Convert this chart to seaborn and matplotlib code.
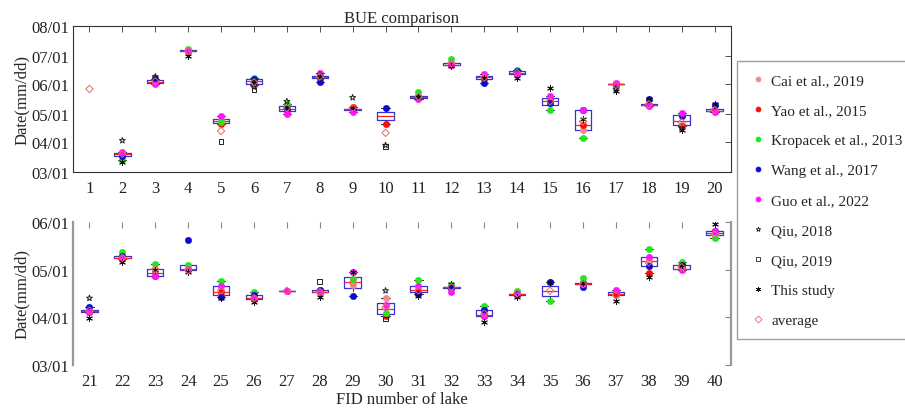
import numpy as np
import pandas as pd
import matplotlib
matplotlib.use('Agg')
import matplotlib.pyplot as plt
import seaborn as sns
from matplotlib.lines import Line2D

nan = np.nan
lakes = list(range(1, 41))
lake_labels = [str(i) for i in lakes]
top_ylabels = ['03/01', '04/01', '05/01', '06/01', '07/01', '08/01']
bot_ylabels = ['03/01', '04/01', '05/01', '06/01']

# day-of-year values
cai = [nan, 80, 154, 187, 114, 155, 129, 160, 126, nan, 140, 173, 160, 164, nan, 104, 152, 130, 109, 124,
       95, 129, 121, 121, 105, 102.4, nan, 107, 111.4, 103, 108, 110, 92, 106, nan, 113, 105, 127, 122, 144]
yao = [nan, 79, 153, 187, 110, 152, 124, 158, 128, 110, 139, 172, 159, 163, 137, 109, 152, 130, 108.6, 124,
       94, 128, 117, 121, 107, 102.4, 107.8, 107, nan, 91.5, 107, 110, 91.7, 105, nan, 112, 105.4, 119, 122, nan]
kropacek = [nan, 73, 156, 189, 112, 158, 131, 161, nan, nan, 143.5, 178, nan, 167, 125, 96, 150, nan, nan, nan,
            nan, 133, 125, 124.3, 114.2, 107.1, nan, 108, 115.3, 93.4, 114.9, 111.6, 97.7, 107.8, 101.4, 115.7, nan, 134.6, 126, 141.4]
wang = [nan, 77, 157, nan, nan, 157, 126, 154, 125, 127, 138, nan, 153, 166, 132, 125, 152, 136, 118.7, 130,
        97, 130, nan, 140.6, 104, 105, nan, 108, 104.6, nan, 105.8, 109.5, 95.6, 106, 113.6, 110.4, nan, 123.4, 124.3, 146]
guo = [nan, 81, 152, 187, 119, 151, 121, 164, 123, nan, 136, 172, 163, 162.6, 140, 125, 153, 129.6, 121.5, 122.7,
       94, 128.8, 117, 121.7, 110.6, 103, 107.8, 107, 120, 98.6, 110.6, 106.7, 91.7, 105, nan, 112, 108.2, 129.2, 121.1, 146.4]
qiu2018 = [nan, 93, 160, nan, nan, 149, 134, 162, 138, 88, nan, nan, nan, nan, nan, nan, 147, nan, 106, nan,
           103, nan, nan, nan, nan, nan, nan, nan, nan, 107.8, nan, nan, nan, nan, nan, nan, nan, nan, nan, nan]
qiu2019 = [nan, nan, nan, nan, 92, 146, nan, nan, nan, 87, nan, nan, nan, nan, nan, nan, nan, nan, nan, nan,
           nan, nan, nan, nan, nan, nan, nan, 113.6, nan, 89.6, nan, nan, nan, nan, nan, nan, nan, nan, nan, nan]
this_study = [nan, 71, 158, 182, nan, 153, 128, 160, 127, nan, 139, 171, 158, 158, 148, 116, 145, 137, 104, 131,
              90, 126.4, 121, 119.6, 103, 100.7, nan, 103.5, 120, nan, 104.2, 112, 87.4, 104, 113.6, 112.5, 101.3, 116.4, 124.3, 150.7]
average = [147, 79, 155, 187, 103, 154, 127, 160, 127, 101, 139, 174, 159, 164, 134, 113, 151, 131, 112, 125,
           95, 129, 121.7, 121, 108, 103, 107.8, 107, 113, 97, 108, 110, 93, 106, 107.8, 112, 105, 126, 123, 144]

sources = ['Cai et al., 2019', 'Yao et al., 2015', 'Kropacek et al., 2013', 'Wang et al., 2017',
           'Guo et al., 2022', 'Qiu, 2018', 'Qiu, 2019', 'This study', 'average']
series = [cai, yao, kropacek, wang, guo, qiu2018, qiu2019, this_study, average]
box_sources = sources[:5]

rows = []
for name, vals in zip(sources, series):
    for lk, v in zip(lakes, vals):
        if not np.isnan(v):
            rows.append((lk, name, v))
df = pd.DataFrame(rows, columns=['lake', 'source', 'doy'])

styles = {
    'Cai et al., 2019': dict(marker='o', fc='#f28a8a', ec='#f28a8a', s=22),
    'Yao et al., 2015': dict(marker='o', fc='#ff0a0a', ec='#ff0a0a', s=22),
    'Kropacek et al., 2013': dict(marker='o', fc='#1ee81e', ec='#1ee81e', s=22),
    'Wang et al., 2017': dict(marker='o', fc='#0a0ad2', ec='#0a0ad2', s=22),
    'Guo et al., 2022': dict(marker='o', fc='#ff14ff', ec='#ff14ff', s=22),
    'Qiu, 2018': dict(marker='*', fc='none', ec='#222222', s=20),
    'Qiu, 2019': dict(marker='s', fc='none', ec='#222222', s=11),
    'This study': dict(marker=(6, 2, 0), fc='#111111', ec='#111111', s=18),
    'average': dict(marker='D', fc='none', ec='#e66a6a', s=14),
}

def to_doy(lbls):
    return [pd.to_datetime('2019/' + s).dayofyear for s in lbls]

sns.set_style('white')
plt.rcParams['font.family'] = ['Liberation Serif', 'DejaVu Serif']

fig = plt.figure(figsize=(9.05, 4.10), dpi=100)
W, H = 905, 410
ax1 = fig.add_axes([73 / W, 1 - 173 / H, 658 / W, 146 / H])
ax2 = fig.add_axes([73 / W, 1 - 366 / H, 658 / W, 143 / H])

panels = [(ax1, 1, 20, top_ylabels), (ax2, 21, 40, bot_ylabels)]
for ax, lo, hi, ylbls in panels:
    sub = df[(df.lake >= lo) & (df.lake <= hi)]
    bsub = sub[sub.source.isin(box_sources)]
    sns.boxplot(data=bsub, x='lake', y='doy', native_scale=True, width=0.5, fill=False,
                color='#3434d4', linewidth=0.9, showfliers=False,
                medianprops=dict(color='#ff2020', linewidth=0.9),
                whiskerprops=dict(color='#333333', linestyle='--', linewidth=0.7),
                capprops=dict(color='#333333', linewidth=0.8), ax=ax)
    for name in sources:
        st = styles[name]
        d = sub[sub.source == name]
        if d.empty:
            continue
        if st['fc'] == 'none':
            sns.scatterplot(x=d['lake'], y=d['doy'], marker=st['marker'], s=st['s'],
                            facecolor='none', edgecolor=st['ec'], linewidth=0.7, ax=ax, zorder=3)
        elif isinstance(st['marker'], tuple):
            sns.scatterplot(x=d['lake'], y=d['doy'], marker=st['marker'], s=st['s'],
                            color=st['ec'], linewidth=0.7, ax=ax, zorder=3)
        else:
            sns.scatterplot(x=d['lake'], y=d['doy'], marker=st['marker'], s=st['s'],
                            color=st['fc'], edgecolor=st['ec'], linewidth=0.3, ax=ax, zorder=3)
    ax.set_xlim(lo - 0.5, hi + 0.5)
    ax.set_xticks(range(lo, hi + 1))
    ax.set_xticklabels(lake_labels[lo - 1:hi], fontsize=12)
    yt = to_doy(ylbls)
    ax.set_ylim(yt[0], yt[-1])
    ax.set_yticks(yt)
    ax.set_yticklabels(ylbls, fontsize=12)
    ax.set_ylabel('Date(mm/dd)', fontsize=12, labelpad=0.5)
    ax.set_xlabel('')

# top panel frame
ax1.tick_params(direction='in', top=True, right=True, length=4, width=0.6,
                color='#333333', labelcolor='#222222')
ax1.tick_params(axis='x', pad=6)
ax1.tick_params(axis='y', pad=3)
for sp in ax1.spines.values():
    sp.set_visible(True)
    sp.set_color('#333333')
    sp.set_linewidth(0.8)
ax1.set_title('BUE comparison', fontsize=12, pad=3)

# bottom panel frame
ax2.tick_params(direction='in', top=True, right=True, length=4, width=0.8,
                color='#888888', labelcolor='#222222')
ax2.tick_params(axis='x', pad=6)
ax2.tick_params(axis='y', pad=3)
for side in ['top', 'bottom']:
    ax2.spines[side].set_visible(False)
for side in ['left', 'right']:
    ax2.spines[side].set_visible(True)
    ax2.spines[side].set_color('#999999')
    ax2.spines[side].set_linewidth(1.6)
ax2.set_xlabel('FID number of lake', fontsize=12, labelpad=1.5)

# legend
handles = []
for name in sources:
    st = styles[name]
    handles.append(Line2D([], [], linestyle='none', marker=st['marker'],
                          markerfacecolor=st['fc'], markeredgecolor=st['ec'],
                          markersize=3.5, markeredgewidth=0.6))
leg = fig.legend(handles, sources, loc='upper left', bbox_to_anchor=(737 / W, 1 - 62 / H),
                 frameon=True, fancybox=False, fontsize=11, labelspacing=1.07,
                 handlelength=1.1, handletextpad=0.33, borderpad=0.8, borderaxespad=0)
leg.get_frame().set_edgecolor('#888888')
leg.get_frame().set_linewidth(1.0)

fig.savefig('out.png', dpi=100)
